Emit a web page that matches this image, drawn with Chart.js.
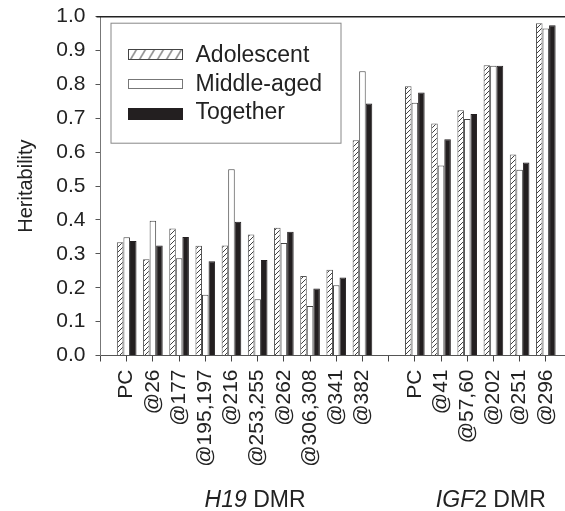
<!DOCTYPE html>
<html>
<head>
<meta charset="utf-8">
<script src="https://cdn.jsdelivr.net/npm/chart.js@4.4.1/dist/chart.umd.min.js"></script>
<style>
  html, body { margin: 0; padding: 0; background: #fff; overflow: hidden; }
  #caja { width: 580px; height: 511px; }
</style>
</head>
<body>
<div id="caja"><canvas id="grafico" width="580" height="511"></canvas></div>
<script>
// categorias: huecos vacios al principio, entre grupos y al final
const categorias = ['', 'PC', '@26', '@177', '@195,197', '@216', '@253,255', '@262', '@306,308', '@341', '@382',
                    '', 'PC', '@41', '@57,60', '@202', '@251', '@296', ''];
const adolescente = [null, 0.334, 0.284, 0.375, 0.324, 0.325, 0.357, 0.377, 0.235, 0.253, 0.635,
                     null, 0.795, 0.685, 0.724, 0.857, 0.593, 0.981, null];
const medianaEdad = [null, 0.349, 0.398, 0.287, 0.179, 0.550, 0.166, 0.332, 0.146, 0.207, 0.839,
                     null, 0.746, 0.561, 0.698, 0.855, 0.548, 0.965, null];
const juntos = [null, 0.338, 0.325, 0.350, 0.278, 0.395, 0.282, 0.365, 0.198, 0.230, 0.744,
                null, 0.776, 0.638, 0.713, 0.855, 0.570, 0.975, null];
const series = ['Adolescent', 'Middle-aged', 'Together'];
const ticksY = [0, 0.1, 0.2, 0.3, 0.4, 0.5, 0.6, 0.7, 0.8, 0.9, 1.0];
const grupos = [
  { cursiva: 'H19', resto: ' DMR', centro: 5.9 },
  { cursiva: 'IGF', resto: '2 DMR', centro: 14.9 }
];

const fuente = '"Liberation Sans", Arial, sans-serif';
const negro = '#231f20';

function rayado() {
  const c = document.createElement('canvas');
  c.width = 5; c.height = 5;
  const g = c.getContext('2d');
  g.fillStyle = '#fff';
  g.fillRect(0, 0, 5, 5);
  g.strokeStyle = '#2a2a2a';
  g.lineWidth = 0.9;
  g.beginPath();
  g.moveTo(0, 5); g.lineTo(5, 0);
  g.moveTo(-1, 1); g.lineTo(1, -1);
  g.moveTo(4, 6); g.lineTo(6, 4);
  g.stroke();
  return g.createPattern(c, 'repeat');
}

// trama de la muestra de la leyenda: mas abierta y empinada
function rayadoLeyenda(alto) {
  const c = document.createElement('canvas');
  c.width = 9; c.height = alto;
  const g = c.getContext('2d');
  g.fillStyle = '#fff';
  g.fillRect(0, 0, 9, alto);
  g.strokeStyle = '#2a2a2a';
  g.lineWidth = 1;
  g.beginPath();
  g.moveTo(2, alto); g.lineTo(8, 0);
  g.stroke();
  return g.createPattern(c, 'repeat');
}
const trama = rayado();

const estilos = [
  { fondo: trama, borde: '#555' },
  { fondo: '#fff', borde: '#444' },
  { fondo: negro, borde: negro }
];

// leyenda y rotulos de grupo dibujados a mano
const extras = {
  id: 'extras',
  afterDraw(chart) {
    const ctx = chart.ctx;
    const a = chart.chartArea;
    const x = chart.scales.x;
    ctx.save();

    // linea superior
    ctx.strokeStyle = '#222';
    ctx.lineWidth = 1.5;
    ctx.beginPath();
    ctx.moveTo(a.left - 4, a.top);
    ctx.lineTo(chart.width, a.top);
    ctx.stroke();

    // caja de la leyenda
    const lx = a.left + 10.5, ly = a.top + 6.5;
    ctx.strokeStyle = '#888';
    ctx.lineWidth = 1;
    ctx.fillStyle = '#fff';
    ctx.fillRect(lx, ly, 230, 120);
    ctx.strokeRect(lx, ly, 230, 120);

    const tops = [32.5, 62.5, 91];
    const altos = [10, 9, 10.5];
    const bordes = ['#444', '#777', negro];
    const bases = [45, 74, 102.6];
    ctx.font = '23px ' + fuente;
    ctx.textBaseline = 'alphabetic';
    ctx.textAlign = 'left';
    series.forEach((nombre, i) => {
      const sx = Math.round(a.left + 27) + 0.5, sy = Math.round(a.top + tops[i]) + 0.5;
      const h = Math.round(altos[i]);
      if (i === 0) {
        ctx.save();
        ctx.translate(sx, sy);
        ctx.fillStyle = rayadoLeyenda(h);
        ctx.fillRect(0, 0, 54, h);
        ctx.restore();
      } else {
        ctx.fillStyle = estilos[i].fondo;
        ctx.fillRect(sx, sy, 54, h);
      }
      ctx.strokeStyle = bordes[i];
      ctx.strokeRect(sx, sy, 54, h);
      ctx.fillStyle = '#222';
      ctx.fillText(nombre, a.left + 95, a.top + bases[i]);
    });

    // rotulos de los grupos
    const paso = x.getPixelForValue(1) - x.getPixelForValue(0);
    grupos.forEach(gr => {
      const cx = x.getPixelForValue(0) + gr.centro * paso;
      ctx.font = 'italic 23px ' + fuente;
      const w1 = ctx.measureText(gr.cursiva).width;
      ctx.font = '23px ' + fuente;
      const w2 = ctx.measureText(gr.resto).width;
      const x0 = cx - (w1 + w2) / 2;
      ctx.fillStyle = '#222';
      ctx.font = 'italic 23px ' + fuente;
      ctx.fillText(gr.cursiva, x0, 506.5);
      ctx.font = '23px ' + fuente;
      ctx.fillText(gr.resto, x0 + w1, 506.5);
    });
    ctx.restore();
  }
};

const datos = [adolescente, medianaEdad, juntos];

new Chart(document.getElementById('grafico'), {
  type: 'bar',
  data: {
    labels: categorias,
    datasets: series.map((nombre, i) => ({
      label: nombre,
      data: datos[i],
      backgroundColor: estilos[i].fondo,
      borderColor: estilos[i].borde,
      borderWidth: 1,
      categoryPercentage: 0.75,
      barPercentage: 1.0
    }))
  },
  options: {
    responsive: false,
    animation: false,
    layout: { padding: { left: 0, top: 16.7, right: 8, bottom: 0 } },
    plugins: {
      legend: { display: false },
      tooltip: { enabled: false }
    },
    scales: {
      x: {
        offset: false,
        grid: { display: true, drawOnChartArea: false, offset: false, tickLength: 6, color: '#444' },
        border: { display: true, color: '#555', width: 1 },
        ticks: {
          autoSkip: false,
          minRotation: 90,
          maxRotation: 90,
          padding: 8,
          color: '#222',
          font: { family: fuente, size: 21 }
        },
        afterFit: s => { s.height = 155.5; s.paddingLeft = 0; s.paddingRight = 0; }
      },
      y: {
        min: 0,
        max: 1,
        afterBuildTicks: s => { s.ticks = ticksY.map(v => ({ value: v })); },
        grid: { display: true, drawOnChartArea: false, tickLength: 5, color: '#555' },
        border: { display: true, color: '#777', width: 1 },
        ticks: {
          padding: 10,
          color: '#222',
          font: { family: fuente, size: 21 },
          callback: v => Number(v).toFixed(1)
        },
        title: {
          display: true,
          text: 'Heritability',
          color: '#222',
          font: { family: fuente, size: 20 },
          padding: { top: 14, bottom: 0 }
        },
        afterFit: s => { s.width = 100.5; s.paddingTop = 0; s.paddingBottom = 0; }
      }
    }
  },
  plugins: [extras]
});
</script>
</body>
</html>
